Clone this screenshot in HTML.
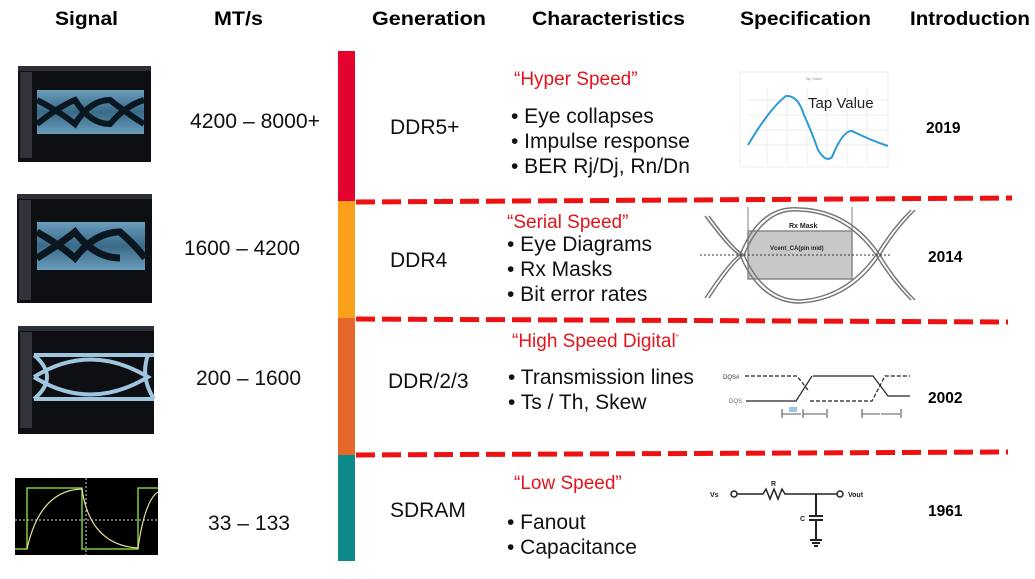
<!DOCTYPE html>
<html><head><meta charset="utf-8"><style>
html,body{margin:0;padding:0;background:#fff;}
svg{display:block;font-family:"Liberation Sans",Arial,sans-serif;}
</style></head><body>
<svg width="1035" height="579" viewBox="0 0 1035 579" xmlns="http://www.w3.org/2000/svg">
<rect width="1035" height="579" fill="#fff"/>
<g font-weight="bold" font-size="19" fill="#000">
<text x="55" y="25" textLength="63" lengthAdjust="spacingAndGlyphs">Signal</text>
<text x="214" y="25" textLength="49" lengthAdjust="spacingAndGlyphs">MT/s</text>
<text x="372" y="25" textLength="114" lengthAdjust="spacingAndGlyphs">Generation</text>
<text x="532" y="25" textLength="153" lengthAdjust="spacingAndGlyphs">Characteristics</text>
<text x="740" y="25" textLength="131" lengthAdjust="spacingAndGlyphs">Specification</text>
<text x="910" y="25" textLength="120" lengthAdjust="spacingAndGlyphs">Introduction</text>
</g>
<rect x="338" y="51" width="17" height="150" fill="#e4032e"/>
<rect x="338" y="201" width="17" height="117" fill="#f9a11b"/>
<rect x="338" y="318" width="17" height="137" fill="#e5672a"/>
<rect x="338" y="455" width="17" height="106" fill="#0f8a8a"/>
<g stroke="#ee1111" stroke-width="5" stroke-dasharray="19 7" fill="none">
<line x1="356" y1="202" x2="1012" y2="198"/>
<line x1="356" y1="319" x2="1008" y2="322"/>
<line x1="356" y1="455" x2="1008" y2="452"/>
</g>
<defs>
<linearGradient id="eye" x1="0" y1="0" x2="0" y2="1">
<stop offset="0" stop-color="#6a9cbc"/><stop offset="0.5" stop-color="#3a6a88"/><stop offset="1" stop-color="#6a9cbc"/>
</linearGradient>
</defs>
<g>
<rect x="18" y="66" width="133" height="96" fill="#0d0f12"/>
<rect x="18" y="66" width="133" height="5" fill="#2a2f38"/>
<rect x="20" y="72" width="12" height="86" fill="#30343a"/>
<rect x="37" y="90" width="107" height="44" fill="url(#eye)"/>
<path d="M37 100 Q60 112 75 124 Q90 100 110 100 Q125 112 144 124 M37 124 Q60 106 75 100 Q90 124 110 124 Q125 106 144 100" stroke="#0a1620" stroke-width="6" fill="none"/>
</g>
<g>
<rect x="17" y="194" width="135" height="109" fill="#0d0f12"/>
<rect x="17" y="194" width="135" height="5" fill="#2a2f38"/>
<rect x="19" y="200" width="12" height="100" fill="#30343a"/>
<rect x="37" y="222" width="108" height="48" fill="url(#eye)"/>
<path d="M37 232 Q60 245 75 258 Q95 232 120 232 Q135 245 145 258 M37 258 Q60 244 75 232 Q95 258 120 258" stroke="#0a1620" stroke-width="7" fill="none"/>
</g>
<g>
<rect x="18" y="326" width="136" height="108" fill="#0d0f12"/>
<rect x="18" y="326" width="136" height="5" fill="#2a2f38"/>
<rect x="20" y="332" width="12" height="96" fill="#30343a"/>
<rect x="34" y="353" width="120" height="4" fill="#9fc6de"/>
<rect x="34" y="397" width="120" height="4" fill="#9fc6de"/>
<path d="M34 355 Q60 377 34 399 M34 377 Q90 342 148 377 Q90 412 34 377 M148 355 Q140 377 154 399" stroke="#9fc6de" stroke-width="4" fill="none"/>
</g>
<g>
<rect x="15" y="478" width="143" height="77" fill="#000"/>
<line x1="86" y1="478" x2="86" y2="555" stroke="#ddd" stroke-dasharray="2 2"/>
<line x1="15" y1="520" x2="158" y2="520" stroke="#ddd" stroke-dasharray="2 2"/>
<path d="M15 549 H27 V488 H82 V549 H138 V488 H158" stroke="#7fcc3a" stroke-width="1.5" fill="none"/>
<path d="M27 549 Q40 490 82 489 Q90 545 138 548 Q145 500 158 492" stroke="#e8e090" stroke-width="1.2" fill="none"/>
</g>
<g font-size="21" fill="#111">
<text x="190" y="128" textLength="130" lengthAdjust="spacingAndGlyphs">4200 – 8000+</text>
<text x="184" y="255" textLength="116" lengthAdjust="spacingAndGlyphs">1600 – 4200</text>
<text x="196" y="385" textLength="105" lengthAdjust="spacingAndGlyphs">200 – 1600</text>
<text x="208" y="530" textLength="82" lengthAdjust="spacingAndGlyphs">33 – 133</text>
</g>
<g font-size="21" fill="#111">
<text x="390" y="134">DDR5+</text>
<text x="390" y="267">DDR4</text>
<text x="388" y="388">DDR/2/3</text>
<text x="390" y="517">SDRAM</text>
</g>
<g font-size="19" fill="#e4141c">
<text x="514" y="85">“Hyper Speed”</text>
<text x="507" y="228">“Serial Speed”</text>
<text x="512" y="347">“High Speed Digital<tspan font-size="9" dy="-6">”</tspan></text>
<text x="514" y="489">“Low Speed”</text>
</g>
<g font-size="21" fill="#111">
<text x="511" y="123">• Eye collapses</text>
<text x="511" y="148">• Impulse response</text>
<text x="511" y="173">• BER Rj/Dj, Rn/Dn</text>
<text x="507" y="251">• Eye Diagrams</text>
<text x="507" y="276">• Rx Masks</text>
<text x="507" y="301">• Bit error rates</text>
<text x="508" y="384">• Transmission lines</text>
<text x="508" y="409">• Ts / Th, Skew</text>
<text x="507" y="529">• Fanout</text>
<text x="507" y="554">• Capacitance</text>
</g>
<g font-size="15.5" font-weight="bold" fill="#000">
<text x="926" y="133">2019</text>
<text x="928" y="262">2014</text>
<text x="928" y="403">2002</text>
<text x="928" y="516">1961</text>
</g>
<g>
<rect x="740" y="72" width="148" height="95" fill="#fff" stroke="#eee"/>
<g stroke="#eee"><line x1="767" y1="88" x2="767" y2="165"/><line x1="787" y1="88" x2="787" y2="165"/><line x1="807" y1="88" x2="807" y2="165"/><line x1="827" y1="88" x2="827" y2="165"/><line x1="847" y1="88" x2="847" y2="165"/><line x1="867" y1="88" x2="867" y2="165"/>
<line x1="748" y1="100" x2="888" y2="100"/><line x1="748" y1="115" x2="888" y2="115"/><line x1="748" y1="130" x2="888" y2="130"/><line x1="748" y1="145" x2="888" y2="145"/></g>
<path d="M748 145 Q770 108 786 96 Q798 95 804 115 Q813 135 818 150 Q826 163 832 157 Q843 130 852 131 Q870 140 888 146" stroke="#2a9ad8" stroke-width="2" fill="none"/>
<text x="808" y="108" font-size="15" fill="#222">Tap Value</text>
<text x="805" y="80" font-size="4" fill="#999">Tap Value</text>
</g>
<g fill="none" stroke="#777" stroke-width="1.5">
<rect x="748" y="231" width="104" height="48" fill="#c8c8c8" stroke="#888"/>
<line x1="748" y1="207" x2="748" y2="231" stroke="#aaa"/><line x1="852" y1="207" x2="852" y2="231" stroke="#aaa"/>
<path d="M705 216 Q730 250 740 255 Q760 204 800 208 Q850 210 880 255 Q895 230 915 210"/>
<path d="M709 216 Q734 250 744 255 Q764 207 800 211 Q846 213 876 255 Q891 230 911 210"/>
<path d="M705 298 Q730 260 740 255 Q760 303 800 303 Q850 300 880 255 Q895 280 915 300"/>
<path d="M709 298 Q734 260 744 255 Q764 300 800 300 Q846 297 876 255 Q891 280 911 300"/>
<line x1="700" y1="255" x2="892" y2="255" stroke="#333" stroke-dasharray="2 2" stroke-width="1"/>
</g>
<text x="789" y="228" font-size="7" font-weight="bold" fill="#222">Rx Mask</text>
<text x="770" y="250" font-size="6" font-weight="bold" fill="#222">Vcent_CA(pin mid)</text>
<g fill="none" stroke="#222" stroke-width="1.2">
<path d="M745 376 H797 L808 390" stroke-dasharray="4 2"/>
<path d="M813 376 H873 L888 396 H910"/>
<path d="M746 401 H796 L812 376"/>
<path d="M810 401 H872 L885 376 H910" stroke-dasharray="4 2"/>
<path d="M782 409 V418 M782 414 H801 M803 409 V418 M803 414 H826 M827 409 V418 M862 409 V418 M862 414 H880 M881 414 H900 M901 409 V418" stroke-width="0.8"/>
</g>
<text x="723" y="379" font-size="6" fill="#333">DQS#</text>
<text x="729" y="403" font-size="6" fill="#666">DQS</text>
<rect x="789" y="407" width="8" height="5" fill="#9cc7e0"/>
<g fill="none" stroke="#222" stroke-width="1.5">
<circle cx="734" cy="494" r="3"/><circle cx="840" cy="494" r="3"/>
<path d="M737 494 H763 L766 489 L770 499 L774 489 L778 499 L782 489 L785 494 H837"/>
<path d="M816 494 V516 M809 516 H823 M809 520 H823 M816 520 V540 M810 540 H822 M812 543 H820 M814 546 H818" stroke-width="2"/>
</g>
<g font-size="7" font-weight="bold" fill="#222"><text x="710" y="497">Vs</text><text x="848" y="497">Vout</text><text x="771" y="486">R</text><text x="800" y="521">C</text></g>
</svg>
</body></html>
